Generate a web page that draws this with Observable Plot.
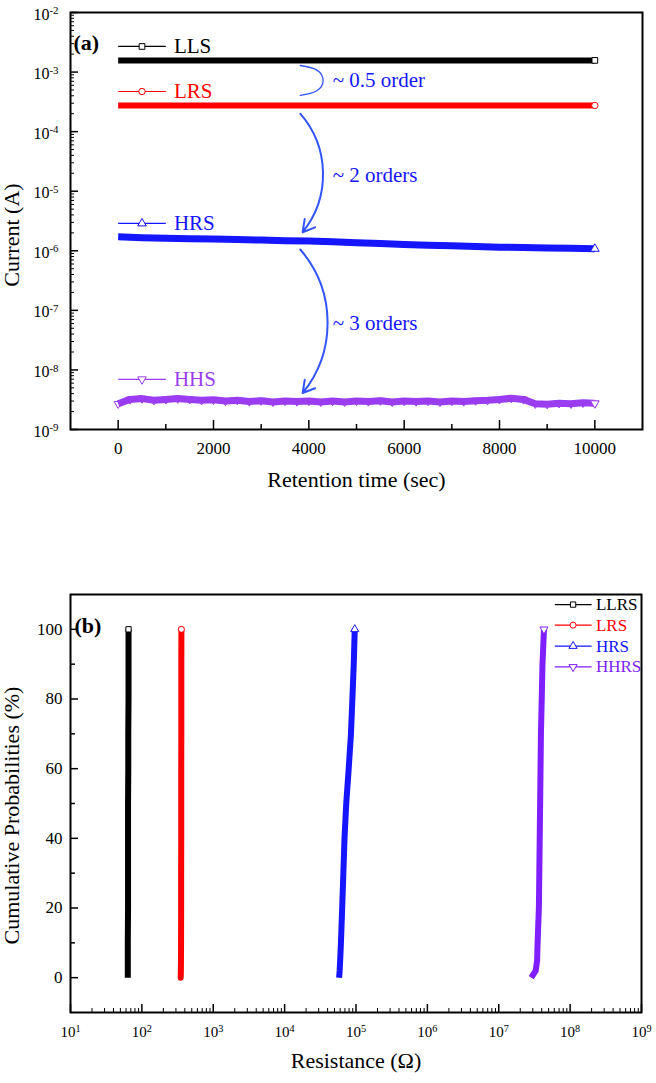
<!DOCTYPE html>
<html>
<head>
<meta charset="utf-8">
<script src="https://cdn.jsdelivr.net/npm/d3@7"></script>
<script src="https://cdn.jsdelivr.net/npm/@observablehq/plot@0.6"></script>
<style>
html, body { margin: 0; padding: 0; background: #fff; }
#chart { width: 656px; }
#chart svg { display: block; }
#chart svg, #chart svg text, #chart svg tspan { font-family: "Liberation Serif", "Times New Roman", Times, serif !important; }
</style>
</head>
<body>
<div id="chart"></div>
<script>
// ---------------- Panel (a): retention ----------------
const retentionTime = [0,500,1000,1500,2000,2500,3000,3500,4000,4500,5000,5500,6000,6500,7000,7500,8000,8500,9000,9500,10000];
const llsCurrent = [1.57e-3,1.57e-3,1.57e-3,1.57e-3,1.57e-3,1.57e-3,1.57e-3,1.57e-3,1.57e-3,1.57e-3,1.57e-3,1.57e-3,1.57e-3,1.57e-3,1.57e-3,1.57e-3,1.57e-3,1.57e-3,1.57e-3,1.57e-3,1.57e-3];
const lrsCurrent = [2.75e-4,2.75e-4,2.75e-4,2.75e-4,2.75e-4,2.75e-4,2.75e-4,2.75e-4,2.75e-4,2.75e-4,2.75e-4,2.75e-4,2.75e-4,2.75e-4,2.75e-4,2.75e-4,2.75e-4,2.75e-4,2.75e-4,2.75e-4,2.75e-4];
const hrsCurrent = [1.72e-6,1.66e-6,1.63e-6,1.60e-6,1.57e-6,1.54e-6,1.51e-6,1.48e-6,1.46e-6,1.42e-6,1.37e-6,1.32e-6,1.28e-6,1.24e-6,1.21e-6,1.18e-6,1.15e-6,1.13e-6,1.11e-6,1.10e-6,1.08e-6];
const hhsTime = [0,250,500,750,1000,1250,1500,1750,2000,2250,2500,2750,3000,3250,3500,3750,4000,4250,4500,4750,5000,5250,5500,5750,6000,6250,6500,6750,7000,7250,7500,7750,8000,8250,8500,8750,9000,9250,9500,9750,10000];
const hhsCurrent = [2.7e-9,3.2e-9,3.3e-9,3.1e-9,3.2e-9,3.3e-9,3.2e-9,3.1e-9,3.15e-9,3.0e-9,3.1e-9,2.95e-9,3.05e-9,2.9e-9,3.0e-9,2.95e-9,3.0e-9,2.9e-9,3.0e-9,2.9e-9,3.0e-9,2.95e-9,3.05e-9,2.9e-9,3.0e-9,2.95e-9,3.0e-9,2.9e-9,3.0e-9,2.95e-9,3.05e-9,3.1e-9,3.2e-9,3.35e-9,3.2e-9,2.7e-9,2.65e-9,2.75e-9,2.7e-9,2.8e-9,2.75e-9];

const retentionTicks = [0,2000,4000,6000,8000,10000];
const retentionMinorTicks = [1000,3000,5000,7000,9000];
const currentTicks = [1e-9,1e-8,1e-7,1e-6,1e-5,1e-4,1e-3,1e-2];

const topNames = ["LLS","LRS","HRS","HHS"];
const topLegendCurrent = [2.69e-3, 4.72e-4, 2.88e-6, 6.95e-9];
const topLegendTime = {start: 0, mid: 500, end: 1000, text: 1170};

const annotationLabels = ["~ 0.5 order", "~ 2 orders", "~ 3 orders"];
const annotationCurrent = [7.2e-4, 1.84e-5, 6.05e-8];
const annotationTime = 4500;
const halfOrderArc = [
  {t: 3820, v: 1.29e-3}, {t: 4160, v: 1.09e-3}, {t: 4300, v: 7.2e-4},
  {t: 4160, v: 4.8e-4}, {t: 3820, v: 4.05e-4}
];
const orderArrows = [
  {x1: 3820, y1: 2.0e-4, x2: 3870, y2: 2.05e-6},
  {x1: 3820, y1: 1.05e-6, x2: 3870, y2: 4.1e-9}
];

// ---------------- Panel (b): distribution ----------------
const cumulativeProb = [0,2,5,10,20,30,40,50,60,70,80,90,100];
const llrsResistance = [63.5,63.5,63.5,63.5,64,64,64,64,64.5,64.5,65,65,65];
const lrsResistance = [350,352,353,354,355,355,356,356,356,357,357,357,358];
const hrsResistance = [5.8e4,5.9e4,6.0e4,6.15e4,6.4e4,6.65e4,6.9e4,7.3e4,7.9e4,8.5e4,8.9e4,9.3e4,9.6e4];
const hhrsResistance = [2.85e7,3.3e7,3.45e7,3.5e7,3.65e7,3.7e7,3.75e7,3.8e7,3.85e7,3.9e7,4.0e7,4.1e7,4.3e7];

const resistanceTicks = [1e1,1e2,1e3,1e4,1e5,1e6,1e7,1e8,1e9];
const probTicks = [0,20,40,60,80,100];
const probMinorTicks = [10,30,50,70,90];

const bottomNames = ["LLRS","LRS","HRS","HHRS"];
const bottomLegendProb = [107.1, 101.2, 95.2, 89.2];
const bottomLegendRes = {start: 6.1e7, mid: 1.1e8, end: 2.0e8, text: 2.3e8};

// ---------------- styles ----------------
const fontFamily = '"Liberation Serif", "Times New Roman", Times, serif';
const topColors = ["#000000", "#ff0000", "#1515ff", "#9a3df0"];
const bottomColors = ["#000000", "#ff0000", "#1515ff", "#7f1fff"];
const symbols = ["square", "circle", "triangle", "triangle"];
const rotations = [0, 0, 0, 180];
const annotationColor = "#1515ff";
const arcColor = "#3355ff";

const minorLog = (lo, hi) => d3.scaleLog().domain([lo, hi]).ticks()
  .filter(v => Math.abs(Math.log10(v) - Math.round(Math.log10(v))) > 1e-9);

function superscriptPowers(svg) {
  svg.querySelectorAll("text").forEach(t => {
    const m = /^10\^(-?\d+)$/.exec(t.textContent);
    if (!m) return;
    t.textContent = "10";
    const ts = document.createElementNS("http://www.w3.org/2000/svg", "tspan");
    ts.setAttribute("dy", "-0.5em");
    ts.setAttribute("font-size", "0.68em");
    ts.textContent = m[1];
    t.appendChild(ts);
  });
}

// ---------------- Panel (a) plot ----------------
const topSeries = [
  {times: retentionTime, values: llsCurrent, sw: 6},
  {times: retentionTime, values: lrsCurrent, sw: 6},
  {times: retentionTime, values: hrsCurrent, sw: 7},
  {times: hhsTime, values: hhsCurrent, sw: 7}
];
const TA = {width: 656, height: 510, ml: 70, mr: 14, mt: 12, mb: 81};
const taFW = TA.width - TA.ml - TA.mr, taFH = TA.height - TA.mt - TA.mb;

const topMarks = [];
topSeries.forEach((s, i) => {
  const rows = s.times.map((t, j) => ({t, v: s.values[j]}));
  topMarks.push(Plot.line(rows, {x: "t", y: "v", stroke: topColors[i], strokeWidth: s.sw, strokeLinecap: "butt", strokeLinejoin: "round"}));
  if (i === 3) {
    topMarks.push(Plot.dot(rows, {x: "t", y: "v", symbol: "triangle", rotate: 180, r: 3, stroke: topColors[i], strokeWidth: 1, fill: "none"}));
  }
  topMarks.push(Plot.dot([rows[rows.length - 1]], {x: "t", y: "v", symbol: symbols[i], rotate: rotations[i], r: 3.2, stroke: topColors[i], strokeWidth: 1, fill: "white"}));
});
topNames.forEach((name, i) => {
  const y = topLegendCurrent[i];
  topMarks.push(Plot.link([name], {x1: topLegendTime.start, x2: topLegendTime.end, y1: y, y2: y, stroke: topColors[i], strokeWidth: 1.2}));
  topMarks.push(Plot.dot([name], {x: topLegendTime.mid, y: y, symbol: symbols[i], rotate: rotations[i], r: 3.2, stroke: topColors[i], strokeWidth: 1, fill: "white"}));
  topMarks.push(Plot.text([name], {x: topLegendTime.text, y: y, text: d => d, textAnchor: "start", fill: topColors[i], fontSize: 21}));
});
topMarks.push(Plot.line(halfOrderArc, {x: "t", y: "v", curve: "natural", stroke: arcColor, strokeWidth: 1.3}));
topMarks.push(Plot.arrow(orderArrows, {x1: "x1", y1: "y1", x2: "x2", y2: "y2", bend: 40, stroke: arcColor, strokeWidth: 2, headLength: 10}));
annotationLabels.forEach((lab, i) => {
  topMarks.push(Plot.text([lab], {x: annotationTime, y: annotationCurrent[i], text: d => d, textAnchor: "start", fill: annotationColor, fontSize: 21}));
});

const topPlot = Plot.plot({
  width: TA.width, height: TA.height,
  marginLeft: TA.ml, marginRight: TA.mr, marginTop: TA.mt, marginBottom: TA.mb,
  style: {fontFamily, fontSize: "16px", color: "black", background: "white", overflow: "visible"},
  x: {type: "linear", domain: [-1000, 11000]},
  y: {type: "log", domain: [1e-9, 1e-2]},
  marks: [
    Plot.tickX(retentionTicks, {x: d => d, insetTop: taFH - 9, stroke: "black", strokeWidth: 1.5}),
    Plot.tickX(retentionMinorTicks, {x: d => d, insetTop: taFH - 5, stroke: "black", strokeWidth: 1.5}),
    Plot.tickY(currentTicks, {y: d => d, insetRight: taFW - 8, stroke: "black", strokeWidth: 1.5}),
    Plot.tickY(minorLog(1e-9, 1e-2), {y: d => d, insetRight: taFW - 4, stroke: "black", strokeWidth: 1}),
    Plot.axisX({ticks: retentionTicks, tickSize: 0, tickPadding: 12, fontSize: 17, label: null, tickFormat: d => String(d)}),
    Plot.axisY({ticks: currentTicks, tickSize: 0, tickPadding: 12, fontSize: 16, label: null, dy: 2, tickFormat: d => "10^" + Math.round(Math.log10(d))}),
    ...topMarks,
    Plot.text(["(a)"], {frameAnchor: "top-left", dx: 3, dy: 22, text: d => d, textAnchor: "start", fontWeight: "bold", fontSize: 22}),
    Plot.text(["Retention time (sec)"], {frameAnchor: "bottom", dy: 57, text: d => d, textAnchor: "middle", fontSize: 22}),
    Plot.text(["Current (A)"], {frameAnchor: "left", dx: -59, dy: 14, rotate: -90, text: d => d, textAnchor: "middle", fontSize: 22}),
    Plot.frame({stroke: "black", strokeWidth: 2})
  ]
});
superscriptPowers(topPlot);

// ---------------- Panel (b) plot ----------------
const bottomSeries = [llrsResistance, lrsResistance, hrsResistance, hhrsResistance];
const BA = {width: 656, height: 573, ml: 70, mr: 15, mt: 84, mb: 71};
const baFW = BA.width - BA.ml - BA.mr, baFH = BA.height - BA.mt - BA.mb;

const bottomMarks = [];
bottomSeries.forEach((vals, i) => {
  const rows = cumulativeProb.map((p, j) => ({p, r: vals[j]}));
  bottomMarks.push(Plot.line(rows, {x: "r", y: "p", stroke: bottomColors[i], strokeWidth: 6, strokeLinecap: i === 1 ? "round" : "butt", strokeLinejoin: "round"}));
  bottomMarks.push(Plot.dot([rows[rows.length - 1]], {x: "r", y: "p", symbol: symbols[i], rotate: rotations[i], r: 3, stroke: bottomColors[i], strokeWidth: 1, fill: "white"}));
});
bottomNames.forEach((name, i) => {
  const y = bottomLegendProb[i];
  bottomMarks.push(Plot.link([name], {x1: bottomLegendRes.start, x2: bottomLegendRes.end, y1: y, y2: y, stroke: bottomColors[i], strokeWidth: 1.2}));
  bottomMarks.push(Plot.dot([name], {x: bottomLegendRes.mid, y: y, symbol: symbols[i], rotate: rotations[i], r: 3, stroke: bottomColors[i], strokeWidth: 1, fill: "white"}));
  bottomMarks.push(Plot.text([name], {x: bottomLegendRes.text, y: y, text: d => d, textAnchor: "start", fill: bottomColors[i], fontSize: 17}));
});

const bottomPlot = Plot.plot({
  width: BA.width, height: BA.height,
  marginLeft: BA.ml, marginRight: BA.mr, marginTop: BA.mt, marginBottom: BA.mb,
  style: {fontFamily, fontSize: "16px", color: "black", background: "white", overflow: "visible"},
  x: {type: "log", domain: [1e1, 1e9]},
  y: {type: "linear", domain: [-10, 110]},
  marks: [
    Plot.tickX(resistanceTicks, {x: d => d, insetTop: baFH - 8, stroke: "black", strokeWidth: 1.5}),
    Plot.tickX(minorLog(1e1, 1e9), {x: d => d, insetTop: baFH - 4, stroke: "black", strokeWidth: 1}),
    Plot.tickY(probTicks, {y: d => d, insetRight: baFW - 8, stroke: "black", strokeWidth: 1.5}),
    Plot.tickY(probMinorTicks, {y: d => d, insetRight: baFW - 5, stroke: "black", strokeWidth: 1.5}),
    Plot.axisX({ticks: resistanceTicks, tickSize: 0, tickPadding: 14, fontSize: 15, label: null, tickFormat: d => "10^" + Math.round(Math.log10(d))}),
    Plot.axisY({ticks: probTicks, tickSize: 0, tickPadding: 8, fontSize: 17, label: null, tickFormat: d => String(d)}),
    ...bottomMarks,
    Plot.text(["(b)"], {frameAnchor: "top-left", dx: 4, dy: 23, text: d => d, textAnchor: "start", fontWeight: "bold", fontSize: 22}),
    Plot.text(["Resistance (Ω)"], {frameAnchor: "bottom", dy: 55, text: d => d, textAnchor: "middle", fontSize: 22}),
    Plot.text(["Cumulative Probabilities (%)"], {frameAnchor: "left", dx: -59, dy: 12, rotate: -90, text: d => d, textAnchor: "middle", fontSize: 22}),
    Plot.frame({stroke: "black", strokeWidth: 2})
  ]
});
superscriptPowers(bottomPlot);

const chart = document.getElementById("chart");
chart.appendChild(topPlot);
chart.appendChild(bottomPlot);
</script>
</body>
</html>
